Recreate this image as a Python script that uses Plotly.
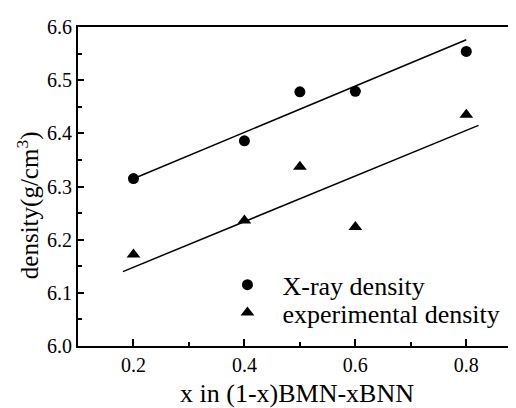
import plotly.graph_objects as go

# X-ray density data
x_xray = [0.2, 0.4, 0.5, 0.6, 0.8]
y_xray = [6.315, 6.386, 6.478, 6.479, 6.554]

# experimental density data
x_exp = [0.2, 0.4, 0.5, 0.6, 0.8]
y_exp = [6.172, 6.236, 6.337, 6.224, 6.435]

# fitted lines (endpoints)
fit_xray_x = [0.205, 0.8]
fit_xray_y = [6.317, 6.576]
fit_exp_x = [0.181, 0.822]
fit_exp_y = [6.140, 6.415]

x_ticks = [0.2, 0.4, 0.6, 0.8]
y_ticks = [6.0, 6.1, 6.2, 6.3, 6.4, 6.5, 6.6]

FONT = "Liberation Serif, Times New Roman, serif"

fig = go.Figure()
fig.add_trace(go.Scatter(x=fit_xray_x, y=fit_xray_y, mode="lines",
                         line=dict(color="black", width=1.5), showlegend=False))
fig.add_trace(go.Scatter(x=fit_exp_x, y=fit_exp_y, mode="lines",
                         line=dict(color="black", width=1.5), showlegend=False))
fig.add_trace(go.Scatter(x=x_xray, y=y_xray, mode="markers", name="X-ray density",
                         marker=dict(symbol="circle", size=11, color="black"),
                         legend="legend"))
fig.add_trace(go.Scatter(x=x_exp, y=y_exp, mode="markers", name="experimental density",
                         marker=dict(symbol="triangle-up", size=12, color="black"),
                         legend="legend2"))

leg_common = dict(xanchor="left", yanchor="middle", bgcolor="rgba(0,0,0,0)",
                  font=dict(size=26, family=FONT), itemwidth=60)

fig.update_layout(
    width=516, height=408,
    margin=dict(l=70, r=8, t=8, b=70),
    paper_bgcolor="white", plot_bgcolor="white",
    font=dict(family=FONT, color="black", size=20),
    legend=dict(x=0.307, y=0.192, **leg_common),
    legend2=dict(x=0.307, y=0.105, **leg_common),
    xaxis=dict(range=[0.1, 0.8896], tickvals=x_ticks, ticktext=["0.2", "0.4", "0.6", "0.8"],
               ticks="inside", ticklen=7, tickwidth=1.5, tickcolor="black",
               showline=True, linecolor="black", linewidth=2, mirror=True,
               showgrid=False, zeroline=False, ticklabeloverflow="allow",
               tickfont=dict(size=20, family=FONT),
               minor=dict(dtick=0.1, tick0=0.1, ticks="inside", ticklen=4, tickwidth=1.5, tickcolor="black"),
               title=dict(text="x in (1-x)BMN-xBNN", font=dict(size=26, family=FONT), standoff=9)),
    yaxis=dict(range=[6.0, 6.6], tickvals=y_ticks, ticktext=["6.0", "6.1", "6.2", "6.3", "6.4", "6.5", "6.6"],
               ticks="inside", ticklen=6, tickwidth=1.5, tickcolor="black",
               showline=True, linecolor="black", linewidth=2, mirror=False,
               showgrid=False, zeroline=False, ticklabeloverflow="allow",
               tickfont=dict(size=20, family=FONT),
               minor=dict(dtick=0.05, tick0=6.0, ticks="inside", ticklen=4, tickwidth=1.5, tickcolor="black")),
    annotations=[dict(text="density(g/cm<sup>3</sup>)", textangle=-90, showarrow=False,
                      xref="paper", yref="paper", x=-0.113, y=0.44,
                      xanchor="center", yanchor="middle",
                      font=dict(size=25, family=FONT, color="black"))],
)

fig.write_html("out.html")
